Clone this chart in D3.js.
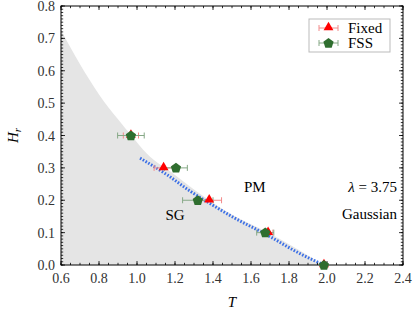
<!DOCTYPE html>
<html>
<head>
<meta charset="utf-8">
<script src="https://cdn.jsdelivr.net/npm/d3@7"></script>
<style>
  body { margin: 0; background: #fff; }
  text { font-family: "Liberation Serif", "DejaVu Serif", serif; }
</style>
</head>
<body>
<script>
// phase diagram H_r vs T

let w = 415
let h = 311
let margin = {top: 6, right: 12, bottom: 46, left: 61}

// data
let hValues = [0.4, 0.3, 0.2, 0.1, 0.0]
let fixedT = [0.968, 1.14, 1.38, 1.69, 1.984]
let fixedErr = [0.04, 0.05, 0.065, 0.025, 0.01]
let fssT = [0.968, 1.205, 1.32, 1.675, 1.984]
let fssErr = [0.07, 0.06, 0.08, 0.045, 0.01]

// gray SG region boundary
let regionT = [0.6, 0.7, 0.8, 0.9, 0.97, 1.05, 1.2, 1.35, 1.5, 1.7, 1.85, 1.98]
let regionH = [0.725, 0.62, 0.527, 0.45, 0.40, 0.345, 0.278, 0.212, 0.155, 0.097, 0.047, 0.0]

// dotted blue line
let lineT = [1.016, 1.16, 1.28, 1.384, 1.505, 1.684, 1.858, 1.984]
let lineH = [0.33, 0.278, 0.228, 0.19, 0.148, 0.093, 0.035, 0.0]

let xTicks = [0.6, 0.8, 1.0, 1.2, 1.4, 1.6, 1.8, 2.0, 2.2, 2.4]
let yTicks = [0.0, 0.1, 0.2, 0.3, 0.4, 0.5, 0.6, 0.7, 0.8]

let svg = d3.select("body")
            .append("svg")
            .attr("width", w)
            .attr("height", h)

let x = d3.scaleLinear().domain([0.6, 2.4]).range([margin.left, w - margin.right])
let y = d3.scaleLinear().domain([0, 0.8]).range([h - margin.bottom, margin.top])

let red = "#ff0000"
let green = "#2f6e2f"

// clip for plot area
svg.append("clipPath").attr("id", "clip")
    .append("rect")
    .attr("x", x(0.6)).attr("y", y(0.8))
    .attr("width", x(2.4) - x(0.6)).attr("height", y(0) - y(0.8))

let plot = svg.append("g").attr("clip-path", "url(#clip)")

// gray region
let region = regionT.map((t, i) => [t, regionH[i]])
let area = d3.area()
    .x(d => x(d[0]))
    .y0(y(0))
    .y1(d => y(d[1]))
    .curve(d3.curveMonotoneX)
plot.append("path")
    .datum(region)
    .attr("d", area)
    .attr("fill", "#e5e5e5")

// blue dotted line
let blue = lineT.map((t, i) => [t, lineH[i]])
plot.append("path")
    .datum(blue)
    .attr("d", d3.line().x(d => x(d[0])).y(d => y(d[1])).curve(d3.curveMonotoneX))
    .attr("fill", "none")
    .attr("stroke", "#3b6fe6")
    .attr("stroke-width", 3)
    .attr("stroke-dasharray", "1.6,1.6")

// axes, ticks inside on all sides
let xMinor = d3.range(0.6, 2.4001, 0.05)
let yMinor = d3.range(0, 0.8001, 0.01)

function drawTicks(g, vals, len, side) {
  vals.forEach(v => {
    if (side === "bottom") g.append("line").attr("x1", x(v)).attr("x2", x(v)).attr("y1", y(0)).attr("y2", y(0) - len)
    if (side === "top") g.append("line").attr("x1", x(v)).attr("x2", x(v)).attr("y1", y(0.8)).attr("y2", y(0.8) + len)
    if (side === "left") g.append("line").attr("x1", x(0.6)).attr("x2", x(0.6) + len).attr("y1", y(v)).attr("y2", y(v))
    if (side === "right") g.append("line").attr("x1", x(2.4)).attr("x2", x(2.4) - len).attr("y1", y(v)).attr("y2", y(v))
  })
}

let tg = svg.append("g").attr("stroke", "#000").attr("stroke-width", 0.8)
drawTicks(tg, xMinor, 2.2, "bottom")
drawTicks(tg, xMinor, 2.2, "top")
drawTicks(tg, xTicks, 4, "bottom")
drawTicks(tg, xTicks, 4, "top")
drawTicks(tg, yMinor, 2.2, "left")
drawTicks(tg, yMinor, 2.2, "right")
drawTicks(tg, yTicks, 4, "left")
drawTicks(tg, yTicks, 4, "right")

svg.append("rect")
    .attr("x", x(0.6)).attr("y", y(0.8))
    .attr("width", x(2.4) - x(0.6)).attr("height", y(0) - y(0.8))
    .attr("fill", "none")
    .attr("stroke", "#000")
    .attr("stroke-width", 1)

// tick labels
svg.selectAll(".xl")
    .data(xTicks)
    .enter()
    .append("text")
    .attr("x", d => x(d))
    .attr("y", y(0) + 18)
    .attr("text-anchor", "middle")
    .attr("font-size", "14px")
    .attr("fill", "#333")
    .text(d => d.toFixed(1))

svg.selectAll(".yl")
    .data(yTicks)
    .enter()
    .append("text")
    .attr("x", x(0.6) - 6)
    .attr("y", d => y(d) + 5)
    .attr("text-anchor", "end")
    .attr("font-size", "14px")
    .attr("fill", "#333")
    .text(d => d.toFixed(1))

// axis titles
svg.append("text")
    .attr("x", (x(0.6) + x(2.4)) / 2)
    .attr("y", h - 4)
    .attr("text-anchor", "middle")
    .attr("font-size", "15px")
    .attr("font-style", "italic")
    .text("T")

let yl = svg.append("text")
    .attr("transform", `translate(18, ${(y(0) + y(0.8)) / 2}) rotate(-90)`)
    .attr("text-anchor", "middle")
    .attr("font-size", "15px")
yl.append("tspan").attr("font-style", "italic").text("H")
yl.append("tspan").attr("font-style", "italic").attr("font-size", "11px").attr("dy", 3).text("r")

// markers
let tri = d3.symbol().type(d3.symbolTriangle).size(42)
let pent = d3.line()(d3.range(5).map(i => {
  let a = -Math.PI / 2 + i * 2 * Math.PI / 5
  return [5.4 * Math.cos(a), 5.4 * Math.sin(a)]
})) + "Z"

function errorBars(g, ts, errs, color) {
  ts.forEach((t, i) => {
    let yy = y(hValues[i])
    g.append("line").attr("x1", x(t - errs[i])).attr("x2", x(t + errs[i])).attr("y1", yy).attr("y2", yy)
    g.append("line").attr("x1", x(t - errs[i])).attr("x2", x(t - errs[i])).attr("y1", yy - 3).attr("y2", yy + 3)
    g.append("line").attr("x1", x(t + errs[i])).attr("x2", x(t + errs[i])).attr("y1", yy - 3).attr("y2", yy + 3)
  })
  g.attr("stroke", color).attr("stroke-width", 1)
}

let pts = svg.append("g")
errorBars(pts.append("g"), fixedT, fixedErr, "#f28a8a")
errorBars(pts.append("g"), fssT, fssErr, "#86a886")

pts.selectAll(".fixed")
    .data(fixedT)
    .enter()
    .append("path")
    .attr("d", tri)
    .attr("transform", (d, i) => `translate(${x(d)},${y(hValues[i]) - 0.5})`)
    .attr("fill", red)

pts.selectAll(".fss")
    .data(fssT)
    .enter()
    .append("path")
    .attr("d", pent)
    .attr("transform", (d, i) => `translate(${x(d)},${y(hValues[i]) + 0.3})`)
    .attr("fill", green)

// annotations
svg.append("text").attr("x", x(1.62)).attr("y", y(0.225)).attr("text-anchor", "middle")
    .attr("font-size", "15px").text("PM")
svg.append("text").attr("x", x(1.2)).attr("y", y(0.14)).attr("text-anchor", "middle")
    .attr("font-size", "15px").text("SG")
let lam = svg.append("text").attr("x", x(2.4) - 6).attr("y", y(0.225)).attr("text-anchor", "end")
    .attr("font-size", "15px")
lam.append("tspan").attr("font-style", "italic").text("λ")
lam.append("tspan").text(" = 3.75")
svg.append("text").attr("x", x(2.4) - 6).attr("y", y(0.143)).attr("text-anchor", "end")
    .attr("font-size", "15px").text("Gaussian")

// legend
let lg = svg.append("g")
lg.append("rect")
    .attr("x", 309).attr("y", 19).attr("width", 81).attr("height", 33)
    .attr("fill", "#fff").attr("stroke", "#bbb").attr("stroke-width", 1)

let legendItems = [["Fixed", red, "#f28a8a", tri], ["FSS", green, "#86a886", pent]]
legendItems.forEach((it, i) => {
  let yy = 28 + i * 15
  lg.append("line").attr("x1", 319).attr("x2", 338).attr("y1", yy).attr("y2", yy).attr("stroke", it[2])
  lg.append("line").attr("x1", 319).attr("x2", 319).attr("y1", yy - 3).attr("y2", yy + 3).attr("stroke", it[2])
  lg.append("line").attr("x1", 338).attr("x2", 338).attr("y1", yy - 3).attr("y2", yy + 3).attr("stroke", it[2])
  lg.append("path").attr("d", it[3]).attr("transform", `translate(328.5,${yy - (i === 0 ? 0.5 : -0.3)})`).attr("fill", it[1])
  lg.append("text").attr("x", 348).attr("y", yy + 5).attr("font-size", "15px").text(it[0])
})
</script>
</body>
</html>
